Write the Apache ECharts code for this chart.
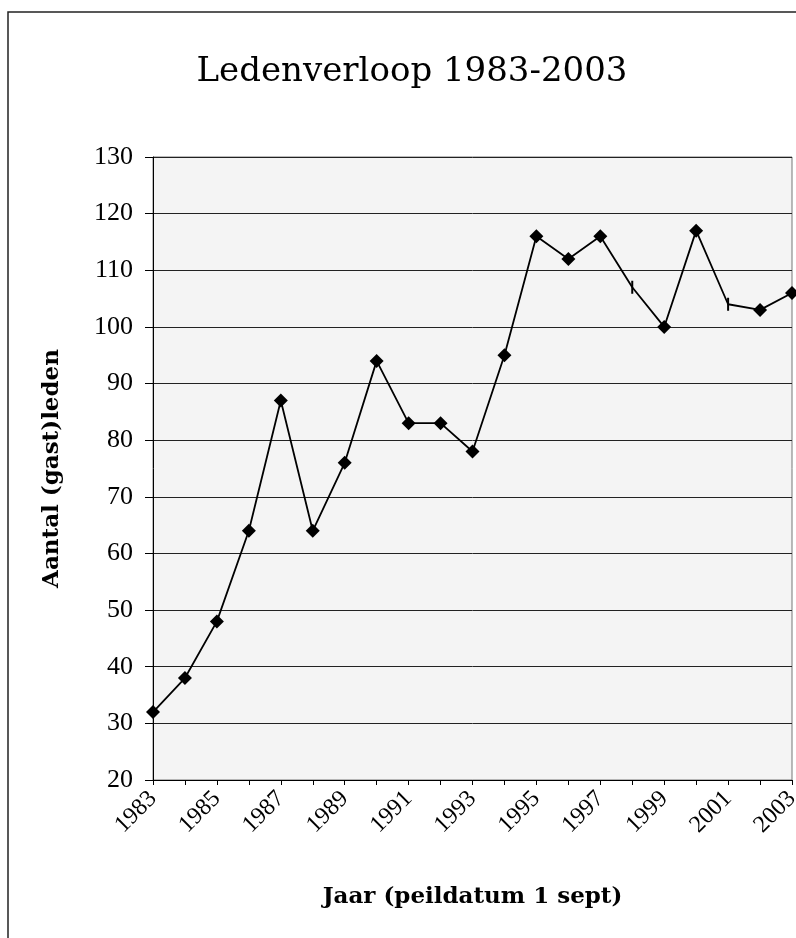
<!DOCTYPE html>
<html>
<head>
<meta charset="utf-8">
<script src="https://cdn.jsdelivr.net/npm/echarts@6/dist/echarts.min.js"></script>
<style>
 html, body { margin: 0; padding: 0; background: #fff; overflow: hidden; }
 #chart { width: 796px; height: 938px; }
</style>
</head>
<body>
<div id="chart"></div>
<script>
// jaren en aantal (gast)leden per 1 sept
const years = ['1983', '1984', '1985', '1986', '1987', '1988', '1989', '1990', '1991', '1992', '1993',
 '1994', '1995', '1996', '1997', '1998', '1999', '2000', '2001', '2002', '2003']
const members = [32, 38, 48, 64, 87, 64, 76, 94, 83, 83, 78, 95, 116, 112, 116, 107, 100, 117, 104, 103, 106]
// jaren met een streepje als markering in plaats van een ruit
const dashYears = ['1998', '2001']
const yTicks = [20, 30, 40, 50, 60, 70, 80, 90, 100, 110, 120, 130]

const serif = 'Liberation Serif'
const wide = 'DejaVu Serif'

const chart = echarts.init(document.getElementById('chart'))

const seriesData = members.map(function (v, i) {
 if (dashYears.includes(years[i])) {
  return { value: v, symbol: 'rect', symbolSize: [2, 13] }
 }
 return v
})

const option = {
 animation: false,
 backgroundColor: '#fff',
 title: {
  text: 'Ledenverloop 1983-2003',
  left: 407,
  textAlign: 'center',
  top: 50,
  textStyle: { fontFamily: wide, fontSize: 34, fontWeight: 'normal', color: '#000' }
 },
 graphic: [
  {
   type: 'rect',
   shape: { x: 8, y: 12, width: 820, height: 960 },
   style: { fill: 'none', stroke: '#222', lineWidth: 1.5 },
   silent: true
  }
 ],
 grid: {
  left: 153,
  right: 4,
  top: 157,
  bottom: 158,
  outerBoundsMode: 'none',
  show: true,
  backgroundColor: '#f4f4f4',
  borderColor: '#777',
  borderWidth: 1
 },
 xAxis: {
  type: 'category',
  data: years,
  boundaryGap: false,
  name: 'Jaar (peildatum 1 sept)',
  nameLocation: 'middle',
  nameGap: 106,
  nameTextStyle: { fontFamily: wide, fontSize: 23, fontWeight: 'bold', color: '#000' },
  axisLine: { lineStyle: { color: '#000', width: 1 } },
  axisTick: { show: true, interval: 0, length: 5, lineStyle: { color: '#000' } },
  axisLabel: {
   interval: 1,
   rotate: 45,
   margin: 15,
   fontFamily: serif,
   fontSize: 24,
   color: '#000'
  },
  splitLine: { show: false }
 },
 yAxis: {
  type: 'value',
  min: yTicks[0],
  max: yTicks[yTicks.length - 1],
  interval: 10,
  name: 'Aantal (gast)leden',
  nameLocation: 'middle',
  nameRotate: 90,
  nameGap: 89,
  nameTextStyle: { fontFamily: wide, fontSize: 23, fontWeight: 'bold', color: '#000' },
  axisLine: { show: true, lineStyle: { color: '#000', width: 1 } },
  axisTick: { show: true, length: 8, lineStyle: { color: '#000' } },
  axisLabel: { margin: 20, fontFamily: serif, fontSize: 26, color: '#000' },
  splitLine: { show: true, lineStyle: { color: '#222', width: 1 } }
 },
 series: [
  {
   name: 'Leden',
   type: 'line',
   data: seriesData,
   symbol: 'diamond',
   symbolSize: 14,
   showAllSymbol: true,
   clip: false,
   lineStyle: { color: '#000', width: 1.8 },
   itemStyle: { color: '#000' }
  }
 ]
}

chart.setOption(option)
</script>
</body>
</html>
